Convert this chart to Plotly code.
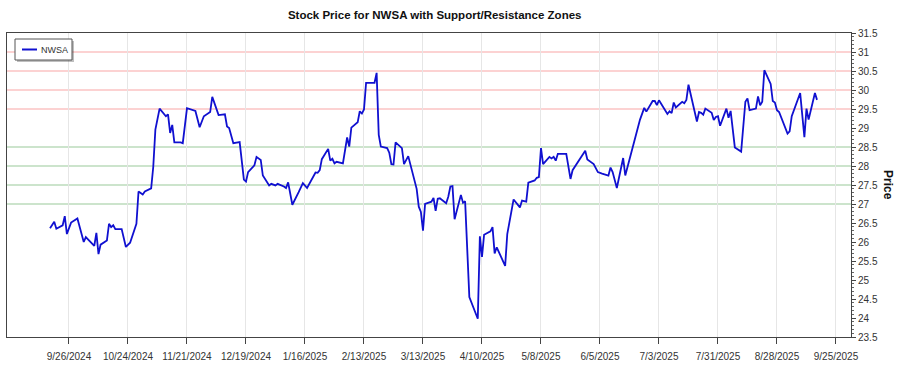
import plotly.graph_objects as go

dates = [
    "2024-09-17", "2024-09-19", "2024-09-20", "2024-09-23", "2024-09-24", "2024-09-25",
    "2024-09-27", "2024-09-30", "2024-10-03", "2024-10-04", "2024-10-08", "2024-10-09",
    "2024-10-10", "2024-10-11", "2024-10-14", "2024-10-15", "2024-10-16", "2024-10-17",
    "2024-10-18", "2024-10-21", "2024-10-23", "2024-10-25", "2024-10-28", "2024-10-29",
    "2024-10-31", "2024-11-01", "2024-11-04", "2024-11-05", "2024-11-06", "2024-11-08",
    "2024-11-11", "2024-11-12", "2024-11-13", "2024-11-14", "2024-11-15", "2024-11-18",
    "2024-11-19", "2024-11-21", "2024-11-25", "2024-11-27", "2024-11-29", "2024-12-02",
    "2024-12-03", "2024-12-06", "2024-12-09", "2024-12-10", "2024-12-11", "2024-12-13",
    "2024-12-16", "2024-12-18", "2024-12-19", "2024-12-20", "2024-12-23", "2024-12-24",
    "2024-12-26", "2024-12-27", "2024-12-30", "2024-12-31", "2025-01-02", "2025-01-03",
    "2025-01-06", "2025-01-07", "2025-01-08", "2025-01-10", "2025-01-13", "2025-01-15",
    "2025-01-17", "2025-01-21", "2025-01-22", "2025-01-23", "2025-01-24", "2025-01-27",
    "2025-01-28", "2025-01-29", "2025-01-30", "2025-01-31", "2025-02-03", "2025-02-05",
    "2025-02-06", "2025-02-07", "2025-02-10", "2025-02-11", "2025-02-12", "2025-02-13",
    "2025-02-14", "2025-02-18", "2025-02-19", "2025-02-20", "2025-02-21", "2025-02-24",
    "2025-02-25", "2025-02-26", "2025-02-27", "2025-02-28", "2025-03-03", "2025-03-04",
    "2025-03-06", "2025-03-10", "2025-03-11", "2025-03-12", "2025-03-13", "2025-03-14",
    "2025-03-17", "2025-03-18", "2025-03-19", "2025-03-20", "2025-03-21", "2025-03-24",
    "2025-03-25", "2025-03-26", "2025-03-27", "2025-03-28", "2025-03-31", "2025-04-01",
    "2025-04-02", "2025-04-04", "2025-04-08", "2025-04-09", "2025-04-10", "2025-04-11",
    "2025-04-14", "2025-04-15", "2025-04-16", "2025-04-17", "2025-04-21", "2025-04-22",
    "2025-04-25", "2025-04-28", "2025-04-29", "2025-05-01", "2025-05-02", "2025-05-05",
    "2025-05-06", "2025-05-07", "2025-05-08", "2025-05-09", "2025-05-12", "2025-05-13",
    "2025-05-14", "2025-05-15", "2025-05-16", "2025-05-20", "2025-05-22", "2025-05-23",
    "2025-05-29", "2025-05-30", "2025-06-02", "2025-06-04", "2025-06-06", "2025-06-09",
    "2025-06-10", "2025-06-11", "2025-06-13", "2025-06-16", "2025-06-17", "2025-06-20",
    "2025-06-24", "2025-06-26", "2025-06-27", "2025-06-30", "2025-07-01", "2025-07-02",
    "2025-07-03", "2025-07-07", "2025-07-08", "2025-07-09", "2025-07-10", "2025-07-11",
    "2025-07-14", "2025-07-15", "2025-07-16", "2025-07-17", "2025-07-21", "2025-07-22",
    "2025-07-23", "2025-07-24", "2025-07-25", "2025-07-28", "2025-07-29", "2025-07-30",
    "2025-07-31", "2025-08-01", "2025-08-04", "2025-08-05", "2025-08-06", "2025-08-08",
    "2025-08-11", "2025-08-13", "2025-08-14", "2025-08-15", "2025-08-18", "2025-08-19",
    "2025-08-20", "2025-08-21", "2025-08-22", "2025-08-25", "2025-08-26", "2025-08-27",
    "2025-08-28", "2025-08-29", "2025-09-02", "2025-09-03", "2025-09-04", "2025-09-08",
    "2025-09-10", "2025-09-11", "2025-09-12", "2025-09-15", "2025-09-16",
]

prices = [
    26.36, 26.53, 26.35, 26.44, 26.68, 26.21,
    26.51, 26.62, 26.00, 26.13, 25.90, 26.24,
    25.68, 25.93, 26.04, 26.48, 26.39, 26.44,
    26.34, 26.34, 25.87, 25.98, 26.48, 27.33,
    27.25, 27.33, 27.41, 27.98, 28.96, 29.51,
    29.31, 29.36, 28.87, 29.08, 28.62, 28.62,
    28.60, 29.52, 29.45, 29.02, 29.31, 29.42,
    29.82, 29.34, 29.36, 29.04, 29.00, 28.60,
    28.63, 27.64, 27.59, 27.84, 28.02, 28.24,
    28.16, 27.75, 27.49, 27.53, 27.49, 27.53,
    27.46, 27.42, 27.57, 26.98, 27.31, 27.55,
    27.42, 27.83, 27.82, 27.89, 28.18, 28.45,
    28.14, 28.19, 28.07, 28.11, 28.07, 28.75,
    28.51, 29.01, 29.15, 29.44, 29.38, 29.49,
    30.19, 30.19, 30.45, 28.82, 28.51, 28.47,
    28.35, 28.05, 28.04, 28.62, 28.47, 28.05,
    28.26, 27.40, 26.93, 26.79, 26.30, 27.00,
    27.06, 27.16, 26.82, 27.14, 27.15, 27.02,
    27.19, 27.46, 27.47, 26.60, 27.24, 27.03,
    27.07, 24.55, 23.98, 26.15, 25.61, 26.19,
    26.28, 26.39, 25.70, 25.86, 25.37, 26.21,
    27.12, 26.91, 27.09, 27.06, 27.56, 27.62,
    27.69, 27.71, 28.47, 28.05, 28.24, 28.20,
    28.24, 28.14, 28.32, 28.32, 27.66, 27.89,
    28.40, 28.17, 28.05, 27.84, 27.80, 27.75,
    27.96, 27.84, 27.42, 28.21, 27.75, 28.40,
    29.22, 29.53, 29.43, 29.71, 29.71, 29.60,
    29.73, 29.37, 29.44, 29.39, 29.67, 29.54,
    29.69, 29.65, 29.74, 30.14, 29.17, 29.42,
    29.40, 29.35, 29.51, 29.40, 29.21, 29.29,
    29.31, 29.06, 29.51, 29.27, 29.45, 28.49,
    28.38, 29.69, 29.78, 29.47, 29.51, 29.83,
    29.60, 29.69, 30.52, 30.16, 29.71, 29.67,
    29.47, 29.42, 28.85, 28.91, 29.31, 29.92,
    28.76, 29.51, 29.22, 29.92, 29.74,
]

resistance_levels = [29.5, 30.0, 30.5, 31.0]
support_levels = [27.0, 27.5, 28.0, 28.5]

tick_dates = ["2024-09-26", "2024-10-24", "2024-11-21", "2024-12-19", "2025-01-16",
              "2025-02-13", "2025-03-13", "2025-04-10", "2025-05-08", "2025-06-05",
              "2025-07-03", "2025-07-31", "2025-08-28", "2025-09-25"]
tick_labels = ["9/26/2024", "10/24/2024", "11/21/2024", "12/19/2024", "1/16/2025",
               "2/13/2025", "3/13/2025", "4/10/2025", "5/8/2025", "6/5/2025",
               "7/3/2025", "7/31/2025", "8/28/2025", "9/25/2025"]

series_name = "NWSA"
line_color = "#1010d0"
FONT = "Liberation Sans"

fig = go.Figure()
fig.add_trace(go.Scatter(
    x=dates, y=prices, mode="lines", name=series_name,
    line=dict(color=line_color, width=1.8), showlegend=False,
))

shapes = []
for lv in resistance_levels:
    shapes.append(dict(type="line", xref="paper", x0=0, x1=1, yref="y", y0=lv, y1=lv,
                       line=dict(color="rgba(240,80,80,0.35)", width=1.5), layer="below"))
for lv in support_levels:
    shapes.append(dict(type="line", xref="paper", x0=0, x1=1, yref="y", y0=lv, y1=lv,
                       line=dict(color="rgba(60,150,60,0.35)", width=1.5), layer="below"))

# legend box (drawn in pixels relative to the top-left corner of the plot area)
def px_rect(x0, x1, y0, y1, **kw):
    return dict(type="rect", xref="paper", yref="paper", xsizemode="pixel", ysizemode="pixel",
                xanchor=0, yanchor=1, x0=x0, x1=x1, y0=y0, y1=y1, layer="above", **kw)

shapes.append(px_rect(10, 67, -8, -29, line=dict(width=0), fillcolor="rgba(0,0,0,0.25)"))
shapes.append(px_rect(8, 65, -6, -27, line=dict(color="#555", width=1), fillcolor="white"))
shapes.append(dict(type="line", xref="paper", yref="paper", xsizemode="pixel", ysizemode="pixel",
                   xanchor=0, yanchor=1, x0=15, x1=30, y0=-16.5, y1=-16.5, layer="above",
                   line=dict(color=line_color, width=2)))

fig.update_layout(
    width=900, height=375,
    margin=dict(l=7, r=49, t=33, b=38),
    paper_bgcolor="white", plot_bgcolor="white",
    font=dict(family=FONT, size=10, color="#333"),
    title=dict(text="<b>Stock Price for NWSA with Support/Resistance Zones</b>",
               x=0.483, xanchor="center", y=0.96, yanchor="middle",
               font=dict(family=FONT, size=11.5, color="#111")),
    showlegend=False,
    shapes=shapes,
    xaxis=dict(
        type="date",
        range=["2024-08-27 14:00", "2025-10-02 03:00"],
        tickvals=tick_dates, ticktext=tick_labels,
        showgrid=True, gridcolor="#e6e6e6", gridwidth=1,
        ticks="outside", ticklen=6, tickcolor="#444",
        showline=True, linecolor="#444", linewidth=1, mirror=True,
        ticklabelstandoff=4,
        tickfont=dict(family=FONT, size=10, color="#333"),
        zeroline=False,
    ),
    yaxis=dict(
        side="right",
        range=[23.5, 31.5], dtick=0.5, tick0=23.5,
        showgrid=False, zeroline=False,
        ticks="outside", ticklen=4, tickcolor="#444",
        minor=dict(ticks="outside", ticklen=2, dtick=0.1, tickcolor="#666", showgrid=False),
        showline=True, linecolor="#444", linewidth=1, mirror=True,
        tickfont=dict(family=FONT, size=10, color="#333"),
    ),
    annotations=[
        dict(text="<b>Price</b>", xref="paper", yref="paper", x=1.0, xanchor="center",
             xshift=37, y=0.5, yanchor="middle", textangle=90, showarrow=False,
             font=dict(family=FONT, size=12, color="#111")),
        dict(text=series_name, xref="paper", yref="paper", x=0, y=1, xanchor="left",
             yanchor="middle", xshift=32, yshift=-16.5, showarrow=False,
             font=dict(family=FONT, size=9, color="#333")),
    ],
)

fig.write_html("out.html", config={"displayModeBar": False},
               post_script="document.body.style.margin='0';")
